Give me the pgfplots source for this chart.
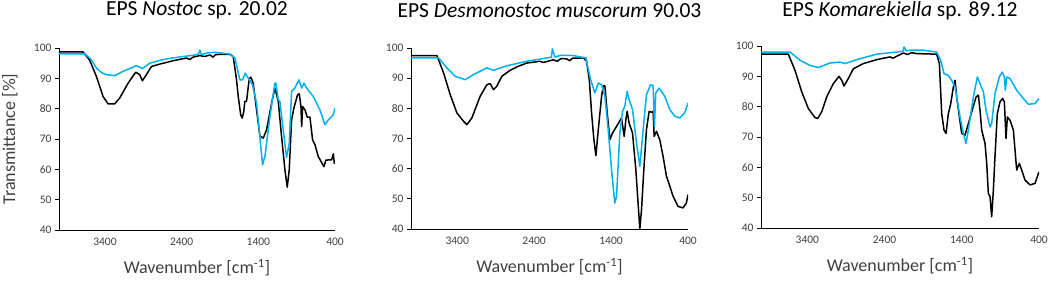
\documentclass[border=0pt]{standalone}
\usepackage{pgfplots}
\pgfplotsset{compat=1.18}
\usepackage{fontspec}
\setmainfont{Carlito}
\definecolor{ftblue}{RGB}{0,176,240}
\definecolor{ticktext}{RGB}{64,64,64}
\pgfplotsset{
  ftir/.style={
    scale only axis,
    width=277pt, height=182pt,
    xmin=400, xmax=4000, ymin=40, ymax=100,
    x dir=reverse,
    axis lines*=left,
    axis line style={black, line width=0.8pt},
    xtick={3400,2400,1400,400},
    ytick={40,50,60,70,80,90,100},
    x tick style={draw=none},
    y tick style={black, line width=0.8pt},
    tick align=outside,
    major tick length=4pt,
    /pgf/number format/assume math mode=true,
    /pgf/number format/1000 sep={},
    tick label style={font=\fontsize{11.5}{13}\selectfont, text=ticktext},
    xticklabel style={yshift=-1pt},
    label style={font=\fontsize{18}{20}\selectfont, text=ticktext},
    xlabel={Wavenumber [cm\textsuperscript{-1}]},
    xlabel style={at={(axis description cs:0.5,-0.209)}, anchor=center},
    title style={at={(axis description cs:0.5,1.172)}, anchor=center, font=\fontsize{21.5}{23}\selectfont},
    every axis plot/.append style={line width=1.5pt, line join=round},
    clip=true,
  }
}
\begin{document}
\begin{tikzpicture}
\useasboundingbox (0,0) rectangle (1052pt,283pt);
% Panel 1
\begin{axis}[ftir, at={(59pt,53pt)}, anchor=south west, width=276pt,
  title={EPS \textit{Nostoc} sp. 20.02},
  ylabel={Transmittance [\%]},
  ylabel style={at={(axis description cs:-0.178,0.5)}, anchor=center}]
\addplot[black] coordinates {
(4000,98.7)(3687,98.7)(3600,96)(3512,90.6)(3425,84)(3360,81.6)(3273,81.6)(3208,83.5)(3099,88.4)(3000,92)(2947,91.2)(2912,89.2)(2860,91.2)(2794,93.9)(2685,94.7)(2511,95.8)(2337,96.7)(2294,96.2)(2250,97)(2163,97.5)(2100,97.2)(2032,97.7)(1989,97)(1960,97.8)(1902,97.9)(1771,97.9)(1728,97.2)(1684,89.5)(1662,84)(1630,78)(1610,76.9)(1590,79)(1576,82.4)(1554,82.4)(1519,89.8)(1497,90.4)(1467,88.4)(1423,79.6)(1380,71)(1336,70.3)(1293,73)(1227,81.8)(1184,86.8)(1140,82.4)(1097,70.8)(1053,59.8)(1023,54.1)(997,59.8)(966,76.3)(936,80.2)(888,84.6)(866,84.9)(844,80.7)(835,74.1)(822,80.7)(792,79.6)(761,77.2)(727,77.2)(692,69.7)(661,68.1)(618,64.2)(580,62.5)(544,60.9)(520,63)(487,63.1)(444,63.1)(422,65.1)(409,62)(400,63)
};
\addplot[ftblue] coordinates {
(4000,98.1)(3665,98.1)(3590,96.5)(3512,93.4)(3440,91.8)(3382,91.2)(3273,90.9)(3164,92.3)(3050,93.5)(2990,94.2)(2912,93.2)(2816,95)(2700,95.8)(2598,96.4)(2381,97.2)(2250,97.6)(2180,98)(2163,99.3)(2141,97.8)(2080,98.3)(1989,98.6)(1900,98.4)(1771,98)(1706,96.7)(1641,89.5)(1606,89.5)(1571,91.7)(1532,90.1)(1476,87.9)(1423,81.8)(1380,70.8)(1345,61.5)(1314,64.2)(1249,77.4)(1184,88.4)(1171,88.4)(1140,82.9)(1119,82.4)(1075,73)(1032,63.9)(997,68.6)(966,85.7)(923,86.8)(870,89.5)(835,86.8)(805,88.4)(770,86.8)(683,84)(596,79.6)(531,74.7)(487,76.3)(422,78)(400,80.2)
};
\end{axis}
% Panel 2
\begin{axis}[ftir, at={(411pt,54pt)}, anchor=south west, height=181pt,
  title={EPS \textit{Desmonostoc muscorum} 90.03}]
\addplot[black] coordinates {
(4000,97.5)(3663,97.5)(3576,91.7)(3490,84.5)(3404,78.5)(3317,75.7)(3274,74.6)(3209,76.8)(3101,84)(3015,87.8)(2971,88.2)(2928,86.2)(2885,87.3)(2820,90.6)(2712,92.6)(2600,94)(2496,95)(2323,95.6)(2280,95.2)(2150,96.1)(2100,95.6)(2050,96.5)(1977,96.4)(1940,95.8)(1900,96.6)(1761,96.7)(1718,95.6)(1683,89.5)(1653,78.5)(1623,69.6)(1597,64.3)(1566,72.9)(1523,84)(1502,87.5)(1480,87.5)(1450,78.5)(1415,69.6)(1381,71.8)(1329,74)(1264,76.8)(1242,72.9)(1229,70.7)(1208,76.2)(1191,79)(1165,75.1)(1121,71.8)(1078,59.7)(1026,40)(1004,46.4)(974,59.7)(940,72.9)(905,79)(875,78.7)(853,79)(840,70.7)(810,72.4)(767,69.6)(724,64.1)(680,57.5)(637,54.2)(594,50.9)(530,47.5)(465,47)(421,48.6)(400,51.4)
};
\addplot[ftblue] coordinates {
(4000,96.7)(3641,96.7)(3533,93.4)(3425,90.6)(3296,89.5)(3188,91.2)(3015,93.4)(2928,92.6)(2755,94.1)(2496,95.6)(2237,96.7)(2175,97)(2163,99.7)(2129,97)(2050,97.6)(1891,97.5)(1727,96.7)(1666,89.5)(1610,85.1)(1566,88.4)(1523,87.8)(1480,84)(1437,72.9)(1394,59.7)(1351,48.6)(1329,50.8)(1286,71.8)(1251,79)(1221,80.7)(1191,85.6)(1165,82.9)(1121,79.6)(1069,68.5)(1026,60.8)(983,72.9)(940,84.5)(888,87.8)(853,87.5)(836,74)(819,85.1)(776,86.7)(702,84)(637,79.6)(572,77.4)(508,76.8)(443,78.5)(400,81.8)
};
\end{axis}
% Panel 3
\begin{axis}[ftir, at={(761pt,55pt)}, anchor=south west, width=278pt,
  title={EPS \textit{Komarekiella} sp. 89.12},
  title style={at={(axis description cs:0.5,1.16)}}]
\addplot[black] coordinates {
(4000,97.3)(3646,97.3)(3560,92)(3473,84.9)(3387,79.4)(3301,76.4)(3266,76.1)(3214,78.3)(3150,83.2)(3063,87.6)(2990,90)(2955,88.7)(2925,86.8)(2869,89.3)(2804,92.5)(2675,94.2)(2502,95.5)(2329,96.4)(2290,96)(2157,97.7)(2100,97.2)(2050,97.8)(1984,97.5)(1725,97.3)(1690,94.2)(1660,77.7)(1630,72.3)(1604,71.2)(1574,77.7)(1543,81)(1509,86.5)(1487,88.7)(1466,83.2)(1431,76.6)(1401,71.2)(1358,70.6)(1315,74.4)(1271,78.3)(1215,83.2)(1185,83.8)(1164,78.8)(1142,72.3)(1099,67.9)(1077,61.3)(1056,51.4)(1034,50.3)(1013,43.7)(991,52.5)(970,63.5)(940,77.7)(905,81.6)(870,82.7)(849,81.6)(827,69.5)(810,76.6)(775,75.5)(732,72.3)(689,59.1)(655,61.3)(624,59.1)(581,55.8)(516,54.2)(452,54.7)(400,58.5)
};
\addplot[ftblue] coordinates {
(4000,98)(3624,98)(3495,95.3)(3365,93.6)(3257,92.9)(3106,94.4)(2977,94.7)(2912,94.2)(2761,95.5)(2502,97.3)(2243,98)(2160,98.3)(2148,99.7)(2120,98.4)(2070,98.6)(1898,98.6)(1725,98)(1673,95.3)(1630,90.9)(1574,90.3)(1531,88.7)(1487,86.5)(1423,76.6)(1380,71.2)(1345,67.9)(1315,72.3)(1250,83.2)(1198,89.8)(1164,87.6)(1120,84.9)(1086,78.8)(1034,73.3)(1013,74.4)(970,84.3)(914,89.8)(875,91.4)(849,89.8)(836,85.4)(819,89.8)(775,89.3)(689,85.4)(603,82.7)(538,80.8)(452,81)(400,82.7)
};
\end{axis}
\end{tikzpicture}
\end{document}
